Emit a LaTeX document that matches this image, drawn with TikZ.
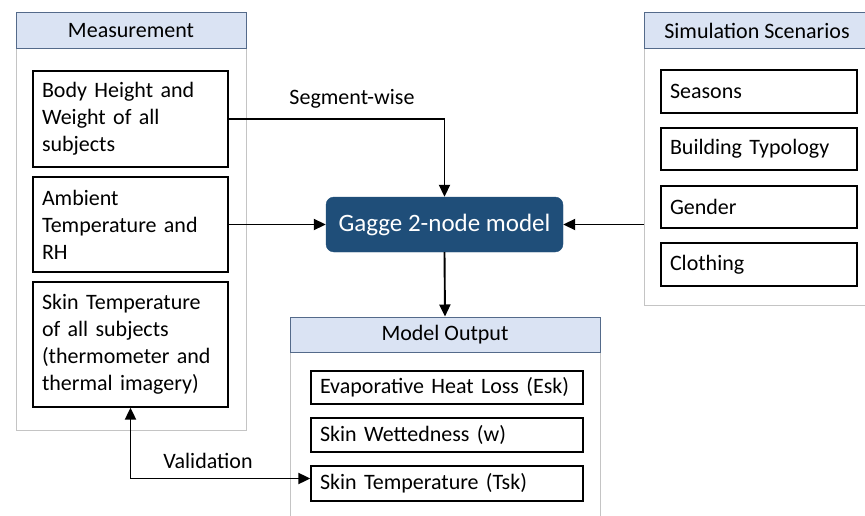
\documentclass[tikz,border=0pt]{standalone}
\usepackage{fontspec}
\setmainfont{Carlito}
\usetikzlibrary{arrows.meta}
\definecolor{headfill}{RGB}{218,227,243}
\definecolor{headline}{RGB}{84,106,138}
\definecolor{modelblue}{RGB}{31,78,121}
\definecolor{panelline}{RGB}{196,196,196}

\begin{document}
\begin{tikzpicture}[x=1pt,y=-1pt]
        \tikzstyle{every node}=[font=\fontsize{22}{27}\selectfont]
        \tikzstyle{panel}=[draw=panelline,line width=1pt,fill=white]
        \tikzstyle{panelhead}=[draw=headline,line width=1pt,fill=headfill]
        \tikzstyle{item}=[draw=black,line width=1.3pt,fill=white,align=left,inner xsep=9pt]
        \tikzstyle{model}=[fill=modelblue,draw=modelblue,rounded corners=8pt,text=white,font=\fontsize{25}{30}\selectfont]
        \tikzstyle{link}=[line width=1.9pt,-{Triangle[length=12pt,width=11pt]}]
        \useasboundingbox (0,0) rectangle (865,516);

        \node[panel,minimum width=230,minimum height=417] (measure) at (131,221.5) {};
        \node[panelhead,minimum width=230,minimum height=36] (measurehead) at (131,31) {Measurement};
        \node[item,text width=177,minimum height=96] (body) at (130.5,119) {Body Height and\\Weight of all\\subjects};
        \node[item,text width=177,minimum height=95] (ambient) at (130.5,224.5) {Ambient\\Temperature and\\RH};
        \node[item,text width=177,minimum height=125] (skin) at (130.5,344.5) {Skin Temperature\\of all subjects\\(thermometer and\\thermal imagery)};

        \node[panel,minimum width=226,minimum height=292] (scenario) at (757,159) {};
        \node[panelhead,minimum width=226,minimum height=36] (scenariohead) at (757,31) {Simulation Scenarios};
        \node[item,text width=178,minimum height=43] (seasons) at (759,91.5) {Seasons};
        \node[item,text width=178,minimum height=42] (building) at (759,149) {Building Typology};
        \node[item,text width=178,minimum height=42] (gender) at (759,207) {Gender};
        \node[item,text width=178,minimum height=43] (clothing) at (759,264.5) {Clothing};

        \node[model,minimum width=237,minimum height=55] (gagge) at (444.5,224.5) {Gagge 2-node model};

        \node[panel,minimum width=310,minimum height=213] (output) at (445,423.5) {};
        \node[panelhead,minimum width=310,minimum height=35] (outputhead) at (445,334.5) {Model Output};
        \node[item,text width=254,minimum height=33] (esk) at (447,387.5) {Evaporative Heat Loss (Esk)};
        \node[item,text width=254,minimum height=34] (wet) at (447,435) {Skin Wettedness (w)};
        \node[item,text width=254,minimum height=35] (tsk) at (447,483.5) {Skin Temperature (Tsk)};

        \node (segment) at (352,99) {Segment-wise};
        \node (valid) at (208,461) {Validation};

        \draw[link] (body.east) -| (gagge.north);
        \draw[link] (ambient.east) -- (gagge.west);
        \draw[link] (scenario.west |- gagge.east) -- (gagge.east);
        \draw[link] (gagge.south) -- (outputhead.north);
        \draw[link,{Triangle[length=12pt,width=11pt]}-{Triangle[length=12pt,width=11pt]}] (skin.south) |- ([yshift=5pt]tsk.west);
    \end{tikzpicture}
\end{document}
